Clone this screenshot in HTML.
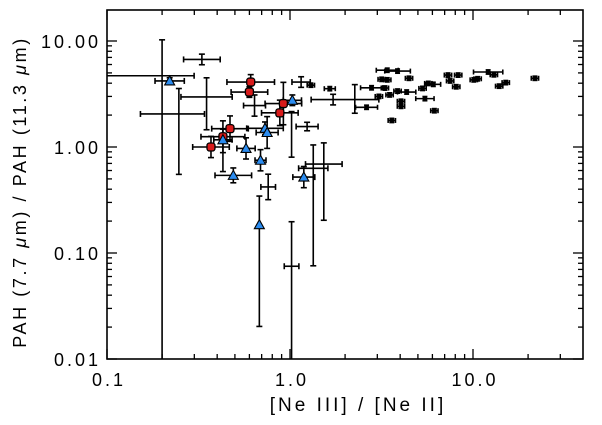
<!DOCTYPE html>
<html><head><meta charset="utf-8"><style>
html,body{margin:0;padding:0;background:#fff;}
svg{display:block;font-family:"Liberation Sans","DejaVu Sans",sans-serif;}
</style></head><body>
<svg id="chart" width="602" height="425" viewBox="0 0 602 425" xmlns="http://www.w3.org/2000/svg">
<rect x="0" y="0" width="602" height="425" fill="#fff"/>
<g id="plot"></g>
<text transform="translate(26,192) rotate(-90)" text-anchor="middle" font-size="18" letter-spacing="2.6" fill="#000">PAH (7.7 <tspan font-style="italic">μ</tspan>m) / PAH (11.3 <tspan font-style="italic">μ</tspan>m)</text>
<text x="358" y="411" text-anchor="middle" font-size="19" letter-spacing="3" fill="#000">[Ne III] / [Ne II]</text>
</svg>
<script>
// Red circles
const redX=[0.61,0.60,0.92,0.88,0.47,0.43,0.37];
const redY=[4.1,3.3,2.57,2.1,1.49,1.25,1.0];
const redXe=[0.13,0.1,0.1,0.1,0.1,0.12,0.1];
const redYe=[0.07,0.05,0.2,0.12,0.12,0.15,0.1];
// Blue triangles
const blueX=[0.22,1.03,0.73,0.75,0.43,0.575,0.69,0.49,1.19,0.68];
const blueY=[4.2,2.76,1.5,1.37,1.17,0.97,0.75,0.54,0.52,0.185];
const blueXe=[0.08,0.05,0.1,0.06,0.05,0.05,0.03,0.1,0.06,0.0];
const blueYlo=[0.03,0.05,0.06,0.15,0.3,0.1,0.1,0.07,0.1,0.96];
const blueYhi=[0.03,0.05,0.06,0.15,0.1,0.1,0.1,0.07,0.1,0.27];
// Error-bar-only points
const barX=[0.33,0.15,0.247,0.35,0.2,0.64,1.24,1.02,1.53,1.34,0.76,1.02,1.15,1.72,2.26];
const barY=[6.7,4.7,2.05,2.97,2.0,2.46,1.56,1.6,0.69,0.63,0.42,0.075,4.1,2.8,3.3];
const barXlo=[0.1,0.55,0.21,0.14,0,0.06,0.06,0,0.1,0.08,0.04,0.04,0.05,0.12,0];
const barXhi=[0.1,0.3,0.14,0.14,0,0.06,0.06,0,0.1,0.08,0.04,0.04,0.05,0.25,0];
const barYlo=[0.05,0,0.57,0.31,2.4,0.1,0.04,0.3,0.53,0.92,0.12,0.9,0.05,0.05,0.2];
const barYhi=[0.05,0,0.24,0.18,0.71,0.1,0.04,0.13,0.2,0.22,0.12,0.42,0.05,0.05,0.07];
// Black filled points
const blkX=[1.30,1.65,2.62,2.79,3.06,3.17,3.4,3.87,3.4,3.3,3.5,3.87,4.34,4.04,4.04,4.47,3.6,5.3,5.46,5.7,6.07,6.15,7.3,8.3,7.5,8.1,10.1,10.6,12.1,13.0,13.9,15.1,21.8];
const blkY=[3.83,3.55,2.37,3.62,3.0,4.35,5.3,5.2,4.3,3.6,3.1,3.37,3.3,2.7,2.42,4.45,1.78,3.57,2.86,3.98,3.9,2.2,4.77,4.77,4.2,3.7,4.3,4.4,5.1,4.8,3.75,4.05,4.45];
const blkXe=[0.02,0.03,0.06,0.06,0.02,0.02,0.06,0.07,0.02,0.02,0.02,0.02,0.05,0.02,0.02,0.02,0.02,0.02,0.05,0.02,0.04,0.02,0.02,0.02,0.02,0.02,0.02,0.02,0.08,0.02,0.02,0.02,0.02];
const xTicks=[0.1,1,10];
const xTickLabels=["0.1","1.0","10.0"];
const yTicks=[10,1,0.1,0.01];
const yTickLabels=["10.00","1.00","0.10","0.01"];

const L=107,R=583,T=10,B=359;
const X0=290, XD=183, Y0=147, YD=106;
const sx=v=>X0+XD*Math.log10(v);
const sy=v=>Y0-YD*Math.log10(v);
const NS="http://www.w3.org/2000/svg";
const plot=document.getElementById('plot');
function mk(tag,attrs,parent){const e=document.createElementNS(NS,tag);for(const k in attrs)e.setAttribute(k,attrs[k]);(parent||plot).appendChild(e);return e;}
const clip=mk('clipPath',{id:'cp'});mk('rect',{x:L,y:T,width:R-L,height:B-T},clip);
const g=mk('g',{'clip-path':'url(#cp)'});



function errbar(cx,cy,xlo,xhi,ylo,yhi,cap){
  const eg=mk('g',{stroke:'#000','stroke-width':1.6,fill:'none'},g);
  
  
  const x1=cx-XD*xlo,x2=cx+XD*xhi,y1=cy+YD*ylo,y2=cy-YD*yhi;
  if(xlo+xhi>0){mk('line',{x1:x1,y1:cy,x2:x2,y2:cy},eg);
    mk('line',{x1:x1,y1:cy-cap,x2:x1,y2:cy+cap},eg);mk('line',{x1:x2,y1:cy-cap,x2:x2,y2:cy+cap},eg);}
  if(ylo+yhi>0){mk('line',{x1:cx,y1:y1,x2:cx,y2:y2},eg);
    mk('line',{x1:cx-cap,y1:y1,x2:cx+cap,y2:y1},eg);mk('line',{x1:cx-cap,y1:y2,x2:cx+cap,y2:y2},eg);}
}
for(let i=0;i<barX.length;i++){
  errbar(sx(barX[i]),sy(barY[i]),barXlo[i],barXhi[i],barYlo[i],barYhi[i],3);
}
for(let i=0;i<blkX.length;i++){
  const cx=sx(blkX[i]),cy=sy(blkY[i]);
  errbar(cx,cy,blkXe[i],blkXe[i],0.02,0.02,2.5);
  const c=mk('circle',{cx:cx,cy:cy,r:2.6,fill:'#000'},g);
  
  
}
for(let i=0;i<redX.length;i++){
  const cx=sx(redX[i]),cy=sy(redY[i]);
  errbar(cx,cy,redXe[i],redXe[i],redYe[i],redYe[i],3);
}
for(let i=0;i<blueX.length;i++){
  const cx=sx(blueX[i]),cy=sy(blueY[i]);
  errbar(cx,cy,blueXe[i],blueXe[i],blueYlo[i],blueYhi[i],3);
}
for(let i=0;i<redX.length;i++){
  const cx=sx(redX[i]),cy=sy(redY[i]);
  const m=mk('rect',{x:cx-4,y:cy-4,width:8,height:8,rx:2.5,fill:'#d81b1b',stroke:'#000','stroke-width':1.3},g);
  
  
}
for(let i=0;i<blueX.length;i++){
  const cx=sx(blueX[i]),cy=sy(blueY[i]);
  const m=mk('polygon',{points:`${cx},${cy-5} ${cx-5},${cy+4} ${cx+5},${cy+4}`,fill:'#2b8cf0',stroke:'#000','stroke-width':1.1},g);
  
  
}
// axes frame
const frame=mk('rect',{x:L,y:T,width:R-L,height:B-T,fill:'none',stroke:'#000','stroke-width':1.6});


const tg=mk('g',{stroke:'#000','stroke-width':1.3});


for(let d=-1;d<=1;d++){for(let k=1;k<10;k++){const v=k*Math.pow(10,d);const x=sx(v);if(x<L||x>R)continue;const len=k===1?10:5;
  mk('line',{x1:x,y1:B,x2:x,y2:B-len},tg);mk('line',{x1:x,y1:T,x2:x,y2:T+len},tg);}}
for(let d=-2;d<=1;d++){for(let k=1;k<10;k++){const v=k*Math.pow(10,d);const y=sy(v);if(y<T||y>B)continue;const len=k===1?10:5;
  mk('line',{x1:L,y1:y,x2:L+len,y2:y},tg);mk('line',{x1:R,y1:y,x2:R-len,y2:y},tg);}}
xTicks.forEach((v,i)=>{const t=mk('text',{x:sx(v)+2,y:386,'text-anchor':'middle','font-size':18,'letter-spacing':3,fill:'#000'});t.textContent=xTickLabels[i];
  
  });
yTicks.forEach((v,i)=>{const t=mk('text',{x:101,y:sy(v)+7,'text-anchor':'end','font-size':18,'letter-spacing':3,fill:'#000'});t.textContent=yTickLabels[i];
  
  });
</script>
</body></html>
